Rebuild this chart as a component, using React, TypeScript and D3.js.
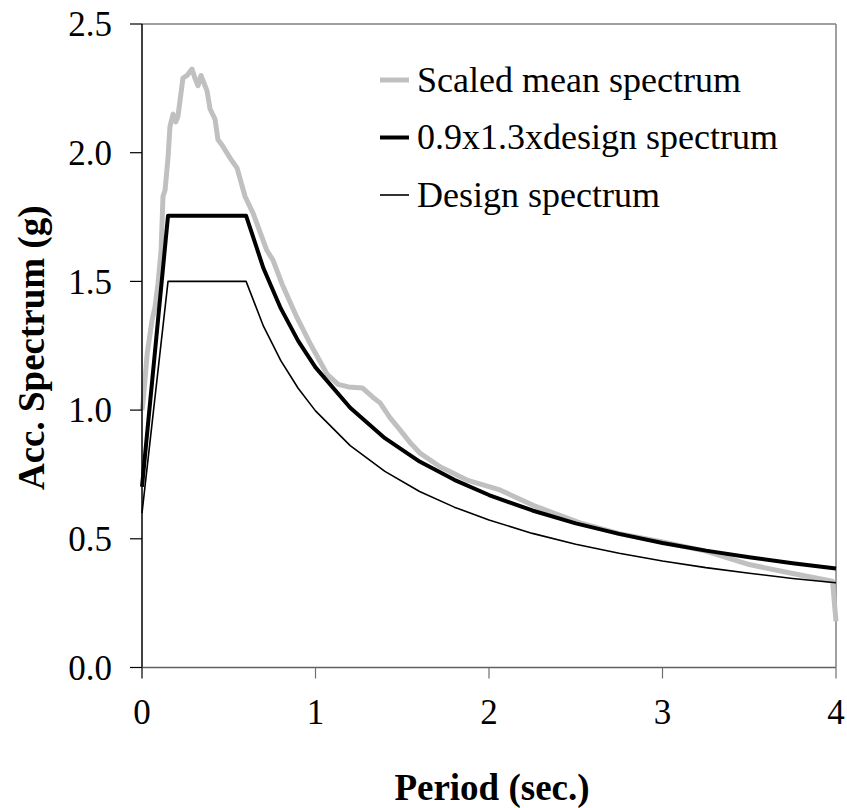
import React from "react";
import * as d3 from "d3";

// Period (sec.) for the code spectra
const periodDesign = [0, 0.15, 0.6, 0.7, 0.8, 0.9, 1.0, 1.2, 1.4, 1.6, 1.8, 2.0, 2.25, 2.5, 2.75, 3.0, 3.25, 3.5, 3.75, 4.0];
const designSpectrum = [0.6, 1.5, 1.5, 1.326, 1.192, 1.085, 0.997, 0.862, 0.762, 0.684, 0.623, 0.573, 0.521, 0.479, 0.444, 0.414, 0.388, 0.366, 0.346, 0.329];
const factoredSpectrum = [0.702, 1.755, 1.755, 1.551, 1.395, 1.269, 1.166, 1.009, 0.891, 0.8, 0.729, 0.67, 0.61, 0.56, 0.519, 0.484, 0.454, 0.428, 0.405, 0.385];

// Scaled mean spectrum
const periodMean = [0, 0.006, 0.03, 0.058, 0.075, 0.092, 0.11, 0.121, 0.133, 0.15, 0.161, 0.179, 0.195, 0.207, 0.236, 0.26, 0.288, 0.305, 0.323, 0.34, 0.375, 0.392, 0.421, 0.438, 0.461, 0.507, 0.548, 0.594, 0.64, 0.72, 0.755, 0.807, 0.893, 0.968, 1.066, 1.13, 1.19, 1.27, 1.33, 1.372, 1.43, 1.487, 1.55, 1.602, 1.718, 1.873, 2.063, 2.254, 2.524, 2.75, 3.0, 3.25, 3.5, 3.75, 3.98, 4.0];
const meanSpectrum = [1.0, 1.03, 1.22, 1.35, 1.4, 1.49, 1.62, 1.83, 1.855, 1.98, 2.1, 2.15, 2.12, 2.14, 2.29, 2.3, 2.325, 2.29, 2.26, 2.3, 2.24, 2.17, 2.13, 2.05, 2.03, 1.98, 1.94, 1.83, 1.765, 1.62, 1.583, 1.49, 1.36, 1.26, 1.14, 1.1, 1.09, 1.086, 1.05, 1.028, 0.97, 0.923, 0.87, 0.833, 0.78, 0.728, 0.69, 0.63, 0.562, 0.52, 0.488, 0.452, 0.4, 0.365, 0.335, 0.18];

const xTicks = [0, 1, 2, 3, 4];
const yTicks = [0, 0.5, 1.0, 1.5, 2.0, 2.5];
const legendLabels = ["Scaled mean spectrum", "0.9x1.3xdesign spectrum", "Design spectrum"];

const W = 847, H = 808;
const left = 142, right = 836, top = 24, bottom = 667.5;
const font = "Liberation Serif, Times New Roman, DejaVu Serif, serif";

export default function App() {
  const x = d3.scaleLinear().domain([0, 4]).range([left, right]);
  const y = d3.scaleLinear().domain([0, 2.5]).range([bottom, top]);

  const line = d3.line<[number, number]>().x(d => x(d[0])).y(d => y(d[1]));
  const pts = (t: number[], v: number[]) => t.map((p, i) => [p, v[i]] as [number, number]);

  const series = [
    { label: legendLabels[0], d: line(pts(periodMean, meanSpectrum)), color: "#c0c0c0", w: 5 },
    { label: legendLabels[1], d: line(pts(periodDesign, factoredSpectrum)), color: "#000", w: 4 },
    { label: legendLabels[2], d: line(pts(periodDesign, designSpectrum)), color: "#000", w: 1.6 },
  ];

  const txt = { fontFamily: font };

  return (
    <svg width={W} height={H} style={{ position: "absolute", left: 0, top: 0, background: "#fff" }}>
      {/* frame */}
      <line x1={left} x2={right} y1={top} y2={top} stroke="#808080" strokeWidth={1.5} />
      <line x1={right} x2={right} y1={top} y2={bottom} stroke="#808080" strokeWidth={1.5} />

      {/* lines */}
      {series.map((s, i) => (
        <path key={i} d={s.d || ""} fill="none" stroke={s.color} strokeWidth={s.w} strokeLinejoin="round" />
      ))}

      {/* y axis */}
      <line x1={left} x2={left} y1={top} y2={bottom} stroke="#000" strokeWidth={1.5} />
      {yTicks.map(t => (
        <g key={t}>
          <line x1={left - 12} x2={left} y1={y(t)} y2={y(t)} stroke="#000" strokeWidth={1.2} />
          <text x={left - 30} y={y(t)} dy="0.35em" textAnchor="end" fontSize={35} style={txt}>{t.toFixed(1)}</text>
        </g>
      ))}

      {/* x axis */}
      <line x1={left} x2={right} y1={bottom} y2={bottom} stroke="#606060" strokeWidth={1.5} />
      {xTicks.map(t => (
        <g key={t}>
          <line x1={x(t)} x2={x(t)} y1={bottom} y2={bottom + 11} stroke={t === 0 ? "#000" : "#707070"} strokeWidth={1.2} />
          <text x={x(t)} y={724} textAnchor="middle" fontSize={35} style={txt}>{t}</text>
        </g>
      ))}

      {/* axis titles */}
      <text x={492} y={800} textAnchor="middle" fontSize={37} fontWeight="bold" style={txt}>Period (sec.)</text>
      <text transform={`translate(44, ${(top + bottom) / 2 + 2}) rotate(-90)`} textAnchor="middle" fontSize={37} fontWeight="bold" style={txt}>Acc. Spectrum (g)</text>

      {/* legend */}
      {series.map((s, i) => {
        const ly = 80 + i * 57.5;
        return (
          <g key={"lg" + i}>
            <line x1={380} x2={409} y1={ly} y2={ly} stroke={s.color} strokeWidth={s.w} />
            <text x={417} y={ly} dy="0.33em" fontSize={36} style={txt}>{s.label}</text>
          </g>
        );
      })}
    </svg>
  );
}
